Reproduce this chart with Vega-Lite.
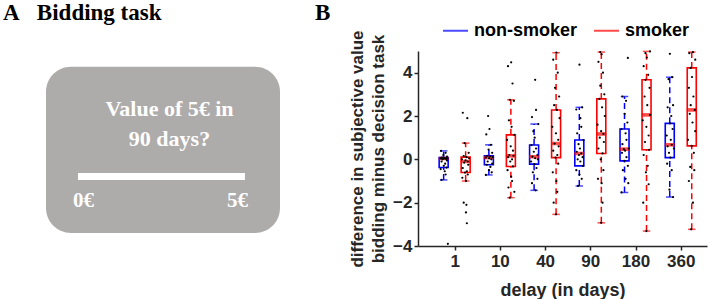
{
  "$schema": "https://vega.github.io/schema/vega-lite/v6.json",
  "padding": {"left": 3, "top": 2, "right": 1, "bottom": 2},
  "spacing": 35,
  "resolve": {"scale": {"stroke": "independent"}, "legend": {"stroke": "independent"}},
  "config": {
    "view": {"stroke": null},
    "font": "Liberation Sans",
    "axis": {
      "grid": false,
      "domainColor": "#262626", "domainWidth": 1.5,
      "tickColor": "#262626", "tickWidth": 1.5, "tickSize": 4,
      "labelFont": "Liberation Sans", "labelFontSize": 17, "labelFontWeight": "bold", "labelColor": "#262626", "labelFlush": false,
      "titleFont": "Liberation Sans", "titleFontWeight": "bold", "titleColor": "#262626"
    }
  },
  "datasets": {
    "boxes": [
      {"k":1,"delay":"1","group":"non-smoker","lo":-0.95,"q1":-0.38,"med":0.04,"q3":0.08,"hi":0.39},
      {"k":1,"delay":"1","group":"smoker","lo":-1.0,"q1":-0.61,"med":-0.1,"q3":0.1,"hi":0.75},
      {"k":2,"delay":"10","group":"non-smoker","lo":-0.72,"q1":-0.25,"med":0.08,"q3":0.16,"hi":0.67},
      {"k":2,"delay":"10","group":"smoker","lo":-1.77,"q1":-0.33,"med":0.16,"q3":1.13,"hi":2.75},
      {"k":3,"delay":"40","group":"non-smoker","lo":-1.43,"q1":-0.22,"med":0.12,"q3":0.66,"hi":1.63},
      {"k":3,"delay":"40","group":"smoker","lo":-2.54,"q1":0.08,"med":0.73,"q3":2.28,"hi":4.92},
      {"k":4,"delay":"90","group":"non-smoker","lo":-1.23,"q1":-0.3,"med":0.27,"q3":0.89,"hi":2.4},
      {"k":4,"delay":"90","group":"smoker","lo":-2.93,"q1":0.27,"med":1.17,"q3":2.79,"hi":4.95},
      {"k":5,"delay":"180","group":"non-smoker","lo":-1.53,"q1":-0.07,"med":0.47,"q3":1.4,"hi":2.9},
      {"k":5,"delay":"180","group":"smoker","lo":-3.31,"q1":0.44,"med":2.05,"q3":3.67,"hi":4.98},
      {"k":6,"delay":"360","group":"non-smoker","lo":-1.74,"q1":0.08,"med":0.67,"q3":1.66,"hi":3.79},
      {"k":6,"delay":"360","group":"smoker","lo":-3.23,"q1":0.62,"med":2.28,"q3":4.22,"hi":4.95}
    ],
    "points": [
      {"pos":0.70,"v":0.39},{"pos":0.80,"v":0.3},{"pos":0.75,"v":0.2},{"pos":0.83,"v":0.12},{"pos":0.72,"v":0.08},{"pos":0.78,"v":0.06},{"pos":0.84,"v":0.05},{"pos":0.69,"v":0.04},{"pos":0.76,"v":0.03},{"pos":0.81,"v":0.02},{"pos":0.73,"v":0.0},{"pos":0.83,"v":-0.05},{"pos":0.71,"v":-0.1},{"pos":0.79,"v":-0.2},{"pos":0.76,"v":-0.3},{"pos":0.82,"v":-0.38},{"pos":0.69,"v":-0.45},{"pos":0.78,"v":-0.55},{"pos":0.80,"v":-0.7},{"pos":0.71,"v":-0.95},{"pos":0.85,"v":-3.9},
      {"pos":1.74,"v":2.0},{"pos":1.77,"v":1.4},{"pos":1.70,"v":1.15},{"pos":1.80,"v":0.67},{"pos":1.75,"v":0.45},{"pos":1.83,"v":0.3},{"pos":1.72,"v":0.16},{"pos":1.78,"v":0.12},{"pos":1.84,"v":0.1},{"pos":1.69,"v":0.08},{"pos":1.76,"v":0.05},{"pos":1.81,"v":0.0},{"pos":1.73,"v":-0.1},{"pos":1.83,"v":-0.2},{"pos":1.71,"v":-0.25},{"pos":1.79,"v":-0.35},{"pos":1.76,"v":-0.5},{"pos":1.82,"v":-0.6},{"pos":1.69,"v":-0.72},
      {"pos":2.78,"v":3.67},{"pos":2.80,"v":2.28},{"pos":2.71,"v":1.95},{"pos":2.85,"v":1.63},{"pos":2.74,"v":1.3},{"pos":2.77,"v":1.0},{"pos":2.70,"v":0.66},{"pos":2.80,"v":0.5},{"pos":2.75,"v":0.35},{"pos":2.83,"v":0.2},{"pos":2.72,"v":0.12},{"pos":2.78,"v":0.05},{"pos":2.84,"v":0.0},{"pos":2.69,"v":-0.1},{"pos":2.76,"v":-0.22},{"pos":2.81,"v":-0.4},{"pos":2.73,"v":-0.6},{"pos":2.83,"v":-0.9},{"pos":2.71,"v":-1.1},{"pos":2.79,"v":-1.43},
      {"pos":3.76,"v":4.37},{"pos":3.82,"v":2.4},{"pos":3.69,"v":2.3},{"pos":3.78,"v":1.9},{"pos":3.80,"v":1.5},{"pos":3.71,"v":1.2},{"pos":3.85,"v":0.89},{"pos":3.74,"v":0.7},{"pos":3.77,"v":0.5},{"pos":3.70,"v":0.35},{"pos":3.80,"v":0.27},{"pos":3.75,"v":0.2},{"pos":3.83,"v":0.1},{"pos":3.72,"v":0.0},{"pos":3.78,"v":-0.1},{"pos":3.84,"v":-0.3},{"pos":3.69,"v":-0.5},{"pos":3.76,"v":-0.7},{"pos":3.81,"v":-0.9},{"pos":3.73,"v":-1.23},
      {"pos":4.83,"v":4.68},{"pos":4.71,"v":2.9},{"pos":4.79,"v":2.7},{"pos":4.76,"v":2.1},{"pos":4.82,"v":1.7},{"pos":4.69,"v":1.4},{"pos":4.78,"v":1.2},{"pos":4.80,"v":0.9},{"pos":4.71,"v":0.7},{"pos":4.85,"v":0.5},{"pos":4.74,"v":0.47},{"pos":4.77,"v":0.4},{"pos":4.70,"v":0.3},{"pos":4.80,"v":0.1},{"pos":4.75,"v":-0.07},{"pos":4.83,"v":-0.3},{"pos":4.72,"v":-0.5},{"pos":4.78,"v":-0.9},{"pos":4.84,"v":-1.1},{"pos":4.69,"v":-1.53},
      {"pos":5.76,"v":4.87},{"pos":5.81,"v":3.79},{"pos":5.73,"v":3.7},{"pos":5.83,"v":2.5},{"pos":5.71,"v":2.4},{"pos":5.79,"v":2.0},{"pos":5.76,"v":1.66},{"pos":5.82,"v":1.4},{"pos":5.69,"v":1.1},{"pos":5.78,"v":0.9},{"pos":5.80,"v":0.67},{"pos":5.71,"v":0.6},{"pos":5.85,"v":0.5},{"pos":5.74,"v":0.3},{"pos":5.77,"v":0.08},{"pos":5.70,"v":-0.2},{"pos":5.80,"v":-0.5},{"pos":5.75,"v":-1.4},{"pos":5.83,"v":-1.74},
      {"pos":1.18,"v":2.15},{"pos":1.28,"v":1.9},{"pos":1.22,"v":0.75},{"pos":1.31,"v":0.3},{"pos":1.20,"v":0.15},{"pos":1.26,"v":0.1},{"pos":1.32,"v":0.05},{"pos":1.16,"v":0.0},{"pos":1.24,"v":-0.05},{"pos":1.29,"v":-0.1},{"pos":1.21,"v":-0.15},{"pos":1.30,"v":-0.25},{"pos":1.18,"v":-0.4},{"pos":1.27,"v":-0.55},{"pos":1.23,"v":-0.61},{"pos":1.29,"v":-0.7},{"pos":1.17,"v":-0.85},{"pos":1.25,"v":-1.0},{"pos":1.20,"v":-2.0},{"pos":1.26,"v":-2.1},{"pos":1.25,"v":-2.45},{"pos":1.27,"v":-2.95},
      {"pos":2.25,"v":4.48},{"pos":2.18,"v":4.3},{"pos":2.28,"v":3.5},{"pos":2.22,"v":2.75},{"pos":2.31,"v":2.7},{"pos":2.20,"v":1.8},{"pos":2.26,"v":1.5},{"pos":2.32,"v":1.13},{"pos":2.16,"v":0.9},{"pos":2.24,"v":0.6},{"pos":2.29,"v":0.4},{"pos":2.21,"v":0.2},{"pos":2.30,"v":0.16},{"pos":2.18,"v":0.1},{"pos":2.27,"v":0.0},{"pos":2.23,"v":-0.1},{"pos":2.29,"v":-0.33},{"pos":2.17,"v":-0.5},{"pos":2.25,"v":-0.8},{"pos":2.27,"v":-1.0},{"pos":2.19,"v":-1.3},{"pos":2.32,"v":-1.5},{"pos":2.22,"v":-1.77},
      {"pos":3.25,"v":4.92},{"pos":3.18,"v":4.6},{"pos":3.28,"v":4.0},{"pos":3.22,"v":3.3},{"pos":3.31,"v":2.9},{"pos":3.20,"v":2.5},{"pos":3.26,"v":2.28},{"pos":3.32,"v":1.9},{"pos":3.16,"v":1.5},{"pos":3.24,"v":1.2},{"pos":3.29,"v":0.9},{"pos":3.21,"v":0.73},{"pos":3.30,"v":0.6},{"pos":3.18,"v":0.4},{"pos":3.27,"v":0.2},{"pos":3.23,"v":0.08},{"pos":3.29,"v":-0.2},{"pos":3.17,"v":-0.6},{"pos":3.25,"v":-1.0},{"pos":3.27,"v":-1.5},{"pos":3.19,"v":-2.0},{"pos":3.24,"v":-2.54},
      {"pos":4.22,"v":4.95},{"pos":4.25,"v":4.85},{"pos":4.18,"v":4.5},{"pos":4.28,"v":4.0},{"pos":4.22,"v":3.4},{"pos":4.31,"v":3.0},{"pos":4.20,"v":2.79},{"pos":4.26,"v":2.4},{"pos":4.32,"v":2.0},{"pos":4.16,"v":1.6},{"pos":4.24,"v":1.3},{"pos":4.29,"v":1.17},{"pos":4.21,"v":1.0},{"pos":4.30,"v":0.8},{"pos":4.18,"v":0.5},{"pos":4.27,"v":0.27},{"pos":4.23,"v":0.0},{"pos":4.29,"v":-0.5},{"pos":4.17,"v":-0.9},{"pos":4.25,"v":-1.1},{"pos":4.27,"v":-2.0},{"pos":4.24,"v":-2.93},
      {"pos":5.32,"v":4.98},{"pos":5.22,"v":4.9},{"pos":5.25,"v":4.7},{"pos":5.18,"v":4.3},{"pos":5.28,"v":3.9},{"pos":5.22,"v":3.67},{"pos":5.31,"v":3.3},{"pos":5.20,"v":2.9},{"pos":5.26,"v":2.5},{"pos":5.32,"v":2.05},{"pos":5.16,"v":1.8},{"pos":5.24,"v":1.5},{"pos":5.29,"v":1.1},{"pos":5.21,"v":0.8},{"pos":5.30,"v":0.44},{"pos":5.18,"v":0.2},{"pos":5.27,"v":-0.3},{"pos":5.23,"v":-0.6},{"pos":5.29,"v":-1.15},{"pos":5.17,"v":-2.0},{"pos":5.24,"v":-3.31},
      {"pos":6.27,"v":4.95},{"pos":6.19,"v":4.9},{"pos":6.32,"v":4.6},{"pos":6.22,"v":4.22},{"pos":6.25,"v":3.8},{"pos":6.18,"v":3.3},{"pos":6.28,"v":2.9},{"pos":6.22,"v":2.5},{"pos":6.31,"v":2.28},{"pos":6.20,"v":2.1},{"pos":6.26,"v":1.7},{"pos":6.32,"v":1.3},{"pos":6.16,"v":0.9},{"pos":6.24,"v":0.62},{"pos":6.29,"v":0.3},{"pos":6.21,"v":-0.35},{"pos":6.30,"v":-0.5},{"pos":6.18,"v":-1.0},{"pos":6.27,"v":-2.0},{"pos":6.23,"v":-3.23}
    ],
    "task": [
      {"part":"card","from":-0.96,"to":6.05,"top":-0.62,"bottom":4.86},
      {"part":"question","text":"Value of 5€ in","eur":2.5,"row":1},
      {"part":"question","text":"90 days?","eur":2.5,"row":2},
      {"part":"slider","from":0,"to":5,"row":3},
      {"part":"min","text":"0€","eur":0,"row":4},
      {"part":"max","text":"5€","eur":5,"row":4}
    ]
  },
  "hconcat": [
    {
      "width": 234,
      "height": 182,
      "title": {"text": "A\u00a0\u00a0\u00a0Bidding task", "anchor": "start", "frame": "group", "dx": -43, "offset": 26, "font": "Liberation Serif", "fontSize": 23, "fontWeight": "bold", "color": "#000000"},
      "data": {"name": "task"},
      "encoding": {
        "x": {"field": "eur", "type": "quantitative", "scale": {"domain": [-0.96, 6.05], "nice": false, "zero": false}, "axis": null},
        "y": {"field": "row", "type": "quantitative", "scale": {"domain": [-1.14, 4.86], "reverse": true, "nice": false, "zero": false}, "axis": null}
      },
      "layer": [
        {
          "transform": [{"filter": "datum.part == 'card'"}],
          "mark": {"type": "rect", "color": "#aeabab", "cornerRadius": 25},
          "encoding": {
            "x": {"field": "from", "type": "quantitative"},
            "x2": {"field": "to"},
            "y": {"field": "top", "type": "quantitative"},
            "y2": {"field": "bottom"}
          }
        },
        {
          "transform": [{"filter": "datum.part == 'slider'"}],
          "mark": {"type": "rule", "color": "#ffffff", "strokeWidth": 7, "strokeCap": "butt"},
          "encoding": {
            "x": {"field": "from", "type": "quantitative"},
            "x2": {"field": "to"}
          }
        },
        {
          "transform": [{"filter": "datum.part == 'question'"}],
          "mark": {"type": "text", "align": "center", "baseline": "alphabetic", "dx": 8, "font": "Liberation Serif", "fontSize": 22, "fontWeight": "bold", "color": "#ffffff"},
          "encoding": {"text": {"field": "text"}}
        },
        {
          "transform": [{"filter": "datum.part == 'min'"}],
          "mark": {"type": "text", "align": "left", "baseline": "alphabetic", "dx": -5, "font": "Liberation Serif", "fontSize": 21, "fontWeight": "bold", "color": "#ffffff"},
          "encoding": {"text": {"field": "text"}}
        },
        {
          "transform": [{"filter": "datum.part == 'max'"}],
          "mark": {"type": "text", "align": "right", "baseline": "alphabetic", "dx": 3, "font": "Liberation Serif", "fontSize": 21, "fontWeight": "bold", "color": "#ffffff"},
          "encoding": {"text": {"field": "text"}}
        }
      ]
    },
    {
      "width": 289,
      "height": 195,
      "title": {"text": "B", "anchor": "start", "frame": "group", "dx": -103, "offset": -8, "font": "Liberation Serif", "fontSize": 23, "fontWeight": "bold", "color": "#000000"},
      "encoding": {
        "x": {
          "field": "k", "type": "quantitative",
          "scale": {"domain": [0.3, 6.47], "nice": false, "zero": false},
          "axis": {"values": [1, 2, 3, 4, 5, 6], "labelExpr": "['1','10','40','90','180','360'][datum.value - 1]", "title": "delay (in days)", "labelPadding": 3, "titleFontSize": 18, "titlePadding": 12}
        },
        "y": {
          "field": "lo", "type": "quantitative",
          "scale": {"domain": [-4, 5], "nice": false, "zero": false},
          "axis": {"values": [-4, -2, 0, 2, 4], "labelPadding": 2, "title": ["difference in subjective value", "bidding minus decision task"], "titleFontSize": 17, "titleLineHeight": 21, "titlePadding": 5}
        },
        "stroke": {
          "field": "group", "type": "nominal",
          "scale": {"domain": ["non-smoker", "smoker"], "range": ["#0000ff", "#ff0000"]},
          "legend": {"orient": "none", "legendX": 24, "legendY": -34, "direction": "horizontal", "title": null, "symbolType": "stroke", "symbolSize": 625, "symbolStrokeWidth": 2, "symbolDash": [100, 0], "labelFont": "Liberation Sans", "labelFontSize": 18, "labelFontWeight": "bold", "labelColor": "#000000", "labelOffset": 5, "columnPadding": 12}
        }
      },
      "layer": [
        {
          "data": {"name": "boxes"},
          "transform": [{"filter": "datum.group == 'non-smoker'"}],
          "layer": [
            {"mark": {"type": "rule", "strokeDash": [6, 4], "strokeWidth": 1.5, "xOffset": -11}, "encoding": {"y2": {"field": "q1"}}},
            {"mark": {"type": "rule", "strokeDash": [6, 4], "strokeWidth": 1.5, "xOffset": -11}, "encoding": {"y": {"field": "q3", "type": "quantitative"}, "y2": {"field": "hi"}}},
            {"mark": {"type": "tick", "orient": "horizontal", "filled": false, "size": 6, "thickness": 0.01, "strokeWidth": 1.5, "xOffset": -11}, "encoding": {}},
            {"mark": {"type": "tick", "orient": "horizontal", "filled": false, "size": 6, "thickness": 0.01, "strokeWidth": 1.5, "xOffset": -11}, "encoding": {"y": {"field": "hi", "type": "quantitative"}}},
            {"mark": {"type": "bar", "orient": "vertical", "filled": false, "size": 9, "strokeWidth": 1.6, "xOffset": -11}, "encoding": {"y": {"field": "q1", "type": "quantitative"}, "y2": {"field": "q3"}}},
            {"mark": {"type": "tick", "orient": "horizontal", "size": 9, "thickness": 2.5, "color": "#ff0000", "xOffset": -11}, "encoding": {"y": {"field": "med", "type": "quantitative"}, "stroke": {"value": "#ff0000"}}}
          ]
        },
        {
          "data": {"name": "boxes"},
          "transform": [{"filter": "datum.group == 'smoker'"}],
          "layer": [
            {"mark": {"type": "rule", "strokeDash": [6, 4], "strokeWidth": 1.5, "xOffset": 11}, "encoding": {"y2": {"field": "q1"}}},
            {"mark": {"type": "rule", "strokeDash": [6, 4], "strokeWidth": 1.5, "xOffset": 11}, "encoding": {"y": {"field": "q3", "type": "quantitative"}, "y2": {"field": "hi"}}},
            {"mark": {"type": "tick", "orient": "horizontal", "filled": false, "size": 6, "thickness": 0.01, "strokeWidth": 1.5, "xOffset": 11}, "encoding": {}},
            {"mark": {"type": "tick", "orient": "horizontal", "filled": false, "size": 6, "thickness": 0.01, "strokeWidth": 1.5, "xOffset": 11}, "encoding": {"y": {"field": "hi", "type": "quantitative"}}},
            {"mark": {"type": "bar", "orient": "vertical", "filled": false, "size": 9, "strokeWidth": 1.6, "xOffset": 11}, "encoding": {"y": {"field": "q1", "type": "quantitative"}, "y2": {"field": "q3"}}},
            {"mark": {"type": "tick", "orient": "horizontal", "size": 9, "thickness": 2.5, "color": "#ff0000", "xOffset": 11}, "encoding": {"y": {"field": "med", "type": "quantitative"}, "stroke": {"value": "#ff0000"}}}
          ]
        },
        {
          "data": {"name": "points"},
          "mark": {"type": "circle", "size": 5, "color": "#000000", "opacity": 1},
          "encoding": {
            "x": {"field": "pos", "type": "quantitative"},
            "y": {"field": "v", "type": "quantitative"},
            "stroke": {"value": null}
          }
        }
      ]
    }
  ]
}
